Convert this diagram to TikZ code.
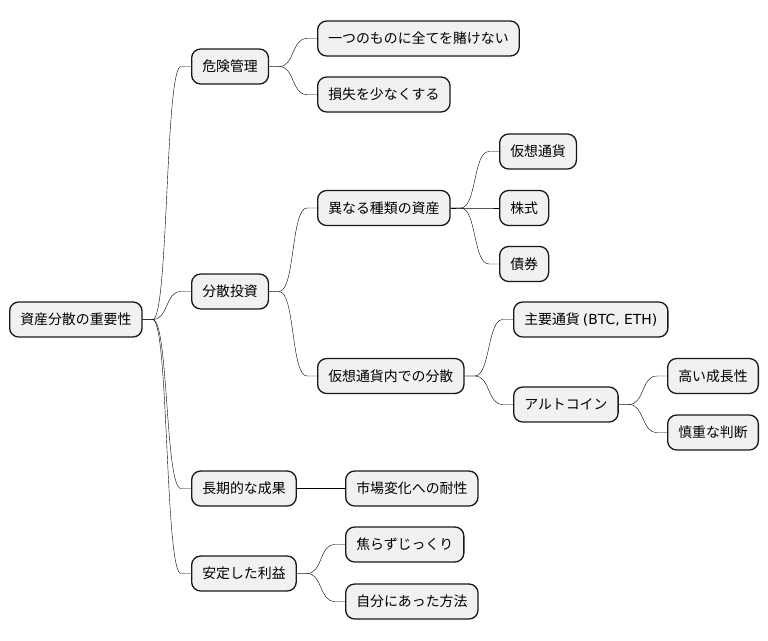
\documentclass[tikz,border=0pt]{standalone}
\usepackage{fontspec}
\setmainfont{Noto Sans CJK JP}
\newfontfamily\latinfont{DejaVu Sans}
\usetikzlibrary{calc}
\definecolor{boxfill}{HTML}{F1F1F1}
\definecolor{boxline}{HTML}{181818}

\begin{document}
\begin{tikzpicture}[
  x=1pt, y=-1pt,
  font=\fontsize{13.9}{16}\selectfont,
  topic/.style={draw=boxline, fill=boxfill, line width=1.3pt, rounded corners=9pt,
               minimum height=35pt, inner xsep=10.6pt, anchor=west},
  link/.style={draw=boxline, line width=1.05pt},
  branch/.style={link, to path={-- ++(10,0) .. controls +(16,0) and +(-16,0)
               .. ($(\tikztotarget)+(-10,0)$) -- (\tikztotarget)}},
  ]
  \useasboundingbox (0,0) rectangle (768,640);
  % root and first level
  \node[topic] (root) at (9,319.5) {資産分散の重要性};
  \node[topic] (risk) at (191,66.5) {危険管理};
  \node[topic] (divers) at (191,291.5) {分散投資};
  \node[topic] (longterm) at (191,488.5) {長期的な成果};
  \node[topic] (stable) at (191,573.5) {安定した利益};
  % risk
  \node[topic] (allin) at (317,38.5) {一つのものに全てを賭けない};
  \node[topic] (loss) at (317,94.5) {損失を少なくする};
  % diversification
  \node[topic] (kinds) at (317,208) {異なる種類の資産};
  \node[topic] (crypto) at (499,151.5) {仮想通貨};
  \node[topic] (stock) at (499,208) {株式};
  \node[topic] (bond) at (499,264) {債券};
  \node[topic] (incrypto) at (317,376) {仮想通貨内での分散};
  \node[topic] (major) at (513,319.5) {主要通貨 {\latinfont(BTC, ETH)}};
  \node[topic] (alt) at (513,404.5) {アルトコイン};
  \node[topic] (growth) at (667,376) {高い成長性};
  \node[topic] (careful) at (667,432.5) {慎重な判断};
  % long term and stable
  \node[topic] (resil) at (345,488.5) {市場変化への耐性};
  \node[topic] (calm) at (345,544.5) {焦らずじっくり};
  \node[topic] (ownway) at (345,601.5) {自分にあった方法};

  \draw (root.east) to[branch] (risk.west);
  \draw (root.east) to[branch] (divers.west);
  \draw (root.east) to[branch] (longterm.west);
  \draw (root.east) to[branch] (stable.west);
  \draw (risk.east) to[branch] (allin.west);
  \draw (risk.east) to[branch] (loss.west);
  \draw (divers.east) to[branch] (kinds.west);
  \draw (divers.east) to[branch] (incrypto.west);
  \draw (kinds.east) to[branch] (crypto.west);
  \draw (kinds.east) to[branch] (stock.west);
  \draw (kinds.east) to[branch] (bond.west);
  \draw (incrypto.east) to[branch] (major.west);
  \draw (incrypto.east) to[branch] (alt.west);
  \draw (alt.east) to[branch] (growth.west);
  \draw (alt.east) to[branch] (careful.west);
  \draw (longterm.east) to[branch] (resil.west);
  \draw (stable.east) to[branch] (calm.west);
  \draw (stable.east) to[branch] (ownway.west);
\end{tikzpicture}
\end{document}
